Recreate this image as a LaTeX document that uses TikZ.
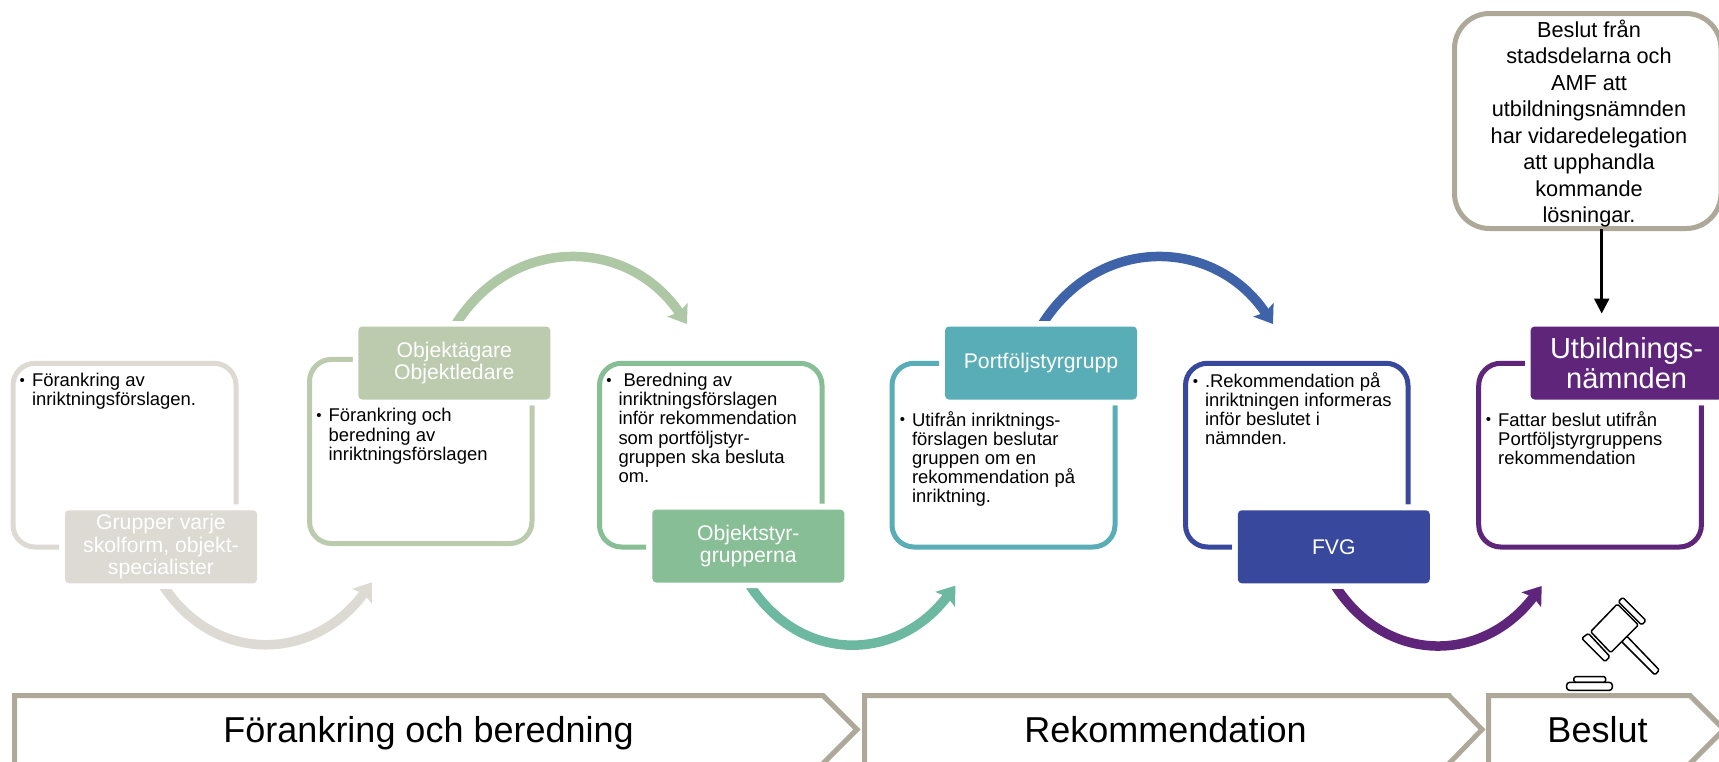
\documentclass[tikz,border=0pt]{standalone}
\usepackage{fontspec}
\setmainfont{Liberation Sans}
\usetikzlibrary{arrows.meta}
\definecolor{cA}{HTML}{DCDAD3}
\definecolor{cB}{HTML}{BCCBAE}
\definecolor{cC}{HTML}{87BE96}
\definecolor{cD}{HTML}{59ADB6}
\definecolor{cE}{HTML}{38489D}
\definecolor{cF}{HTML}{5F257B}
\definecolor{arA}{HTML}{AEC8A6}
\definecolor{arB}{HTML}{6CB8A0}
\definecolor{arC}{HTML}{3F63A8}
\definecolor{frameC}{HTML}{AEA899}
\newcommand{\bulmark}{\rule{0pt}{14pt}\llap{\raisebox{1.5pt}{\fontsize{15}{15}\selectfont •}\kern7pt}}
\tikzset{
  header/.style={rectangle,rounded corners=4pt,minimum width=192pt,minimum height=73pt,inner sep=0pt,text=white,align=center,font=\fontsize{21.2}{22.5}\selectfont,preaction={draw=white,line width=11pt}},
  outline/.style={line width=5pt,rounded corners=22pt},
  bodytext/.style={inner sep=0pt,anchor=north west,align=left,font=\fontsize{18.45}{19.1}\selectfont},
  flow/.style={line width=9.5pt,-{Stealth[length=17pt,width=24pt,inset=3pt]}},
  stage/.style={draw=frameC,fill=white,line width=5pt,miter limit=10},
  stagetext/.style={inner sep=0pt,font=\fontsize{36}{36}\selectfont,anchor=base},
  gav/.style={draw=black,fill=white,line width=1.5pt,line join=round,rounded corners=1.5pt}
}
\begin{document}
\begin{tikzpicture}[x=1pt,y=-1pt]
\clip (0,0) rectangle (1719,761);
\fill[white] (0,0) rectangle (1719,761);
% stages
\draw[stage] (14.6,800) -- (14.6,695.5) -- (823,695.5) -- (857,729.5) -- (823,763.5) -- (823,800);
\draw[stage] (864.7,800) -- (864.7,695.5) -- (1449,695.5) -- (1482,729.5) -- (1449,763.5) -- (1449,800);
\draw[stage] (1488.7,800) -- (1488.7,695.5) -- (1690,695.5) -- (1724,729.5) -- (1690,763.5) -- (1690,800);
\node[stagetext] (s1) at (428.6,742) {Förankring och beredning};
\node[stagetext] (s2) at (1165.5,742) {Rekommendation};
\node[stagetext] (s3) at (1597.5,742) {Beslut};
% outlines
\draw[outline,cA] (236,504.3) -- (236,363.3) -- (13,363.3) -- (13,547) -- (59,547);
\draw[outline,cB] (532,405.4) -- (532,543.5) -- (309.5,543.5) -- (309.5,359.4) -- (353,359.4);
\draw[outline,cC] (822,503.6) -- (822,363.3) -- (599.5,363.3) -- (599.5,547) -- (646,547);
\draw[outline,cD] (1115,405.4) -- (1115,547) -- (892,547) -- (892,363.3) -- (939,363.3);
\draw[outline,cE] (1408,504.3) -- (1408,363.3) -- (1185.5,363.3) -- (1185.5,547) -- (1232,547);
\draw[outline,cF] (1701.4,405.4) -- (1701.4,547) -- (1478.7,547) -- (1478.7,363.3) -- (1525,363.3);
% flow arrows (their starts run under the white halo of the headers)
\coordinate (f1s) at (160,580.5);   \coordinate (f1e) at (372,582.3);
\coordinate (f2s) at (452.5,329.6); \coordinate (f2e) at (687,324);
\coordinate (f3s) at (746.6,580);   \coordinate (f3e) at (955.5,585.6);
\coordinate (f4s) at (1039,329.6);  \coordinate (f4e) at (1273,324);
\coordinate (f5s) at (1332,580.5);  \coordinate (f5e) at (1541.7,586);
\draw[flow,cA] (f1s) .. controls (210,664) and (312,664) .. (f1e);
\draw[flow,arA] (f2s) .. controls (507.5,235) and (627,235) .. (f2e);
\draw[flow,arB] (f3s) .. controls (797,664) and (896,664) .. (f3e);
\draw[flow,arC] (f4s) .. controls (1094,235) and (1213,235) .. (f4e);
\draw[flow,cF] (f5s) .. controls (1382,665) and (1482,665) .. (f5e);
% headers
\node[header,fill=cA] (h1) at (161,546.8) {Grupper varje\\skolform, objekt-\\specialister};
\node[header,fill=cB] (h2) at (454.3,363) {Objektägare\\Objektledare};
\node[header,fill=cC] (h3) at (748.3,546) {Objektstyr-\\grupperna};
\node[header,fill=cD] (h4) at (1041,363) {Portföljstyrgrupp};
\node[header,fill=cE] (h5) at (1333.8,546.8) {FVG};
\node[header,fill=cF,font=\fontsize{29}{30.5}\selectfont] (h6) at (1626.6,363) {Utbildnings-\\nämnden};
% body text
\node[bodytext] (t1) at (31.8,372.5) {\bulmark Förankring av\\inriktningsförslagen.};
\node[bodytext] (t2) at (328.4,407.7) {\bulmark Förankring och\\beredning av\\inriktningsförslagen};
\node[bodytext] (t3) at (618.3,372.5) {\bulmark\kern5pt Beredning av\\inriktningsförslagen\\inför rekommendation\\som portföljstyr-\\gruppen ska besluta\\om.};
\node[bodytext] (t4) at (911.8,411.4) {\bulmark Utifrån inriktnings-\\förslagen beslutar\\gruppen om en\\rekommendation på\\inriktning.};
\node[bodytext] (t5) at (1204.8,372.5) {\bulmark .Rekommendation på\\inriktningen informeras\\inför beslutet i\\nämnden.};
\node[bodytext] (t6) at (1498,411.4) {\bulmark Fattar beslut utifrån\\Portföljstyrgruppens\\rekommendation};
% top box
\node[draw=frameC,fill=white,line width=5pt,rounded corners=35pt,minimum width=266.5pt,minimum height=215pt,inner sep=0pt] (top) at (1587.75,121) {};
\node[inner sep=0pt,align=center,font=\fontsize{21.7}{26.5}\selectfont] (toptext) at (1589,123.5) {Beslut från\\stadsdelarna och\\AMF att\\utbildningsnämnden\\har vidaredelegation\\att upphandla\\kommande\\lösningar.};
\coordinate (d1) at (1601.7,229);
\coordinate (d2) at (1601.7,313.5);
\draw[line width=2.5pt,-{Triangle[length=15pt,width=15pt]}] (d1) -- (d2);
% gavel
\begin{scope}[shift={(1400,560)},x=0.3333pt,y=-0.3333pt]
\draw[gav] (680,228) -- (778,330) -- (765,345) -- (665,245) -- cycle;
\draw[gav] (652,132) -- (715,195) -- (632,278) -- (572,215) -- cycle;
\draw[gav] (668,112) -- (738,182) -- (725,195) -- (655,125) -- cycle;
\draw[gav] (565,220) -- (630,290) -- (615,305) -- (545,235) -- cycle;
\draw[gav] (522,367) -- (522,350) -- (617,350) -- (617,367) -- cycle;
\draw[gav,rounded corners=3pt] (500,367) -- (637,367) -- (637,391) -- (500,391) -- cycle;
\end{scope}
\end{tikzpicture}
\end{document}
